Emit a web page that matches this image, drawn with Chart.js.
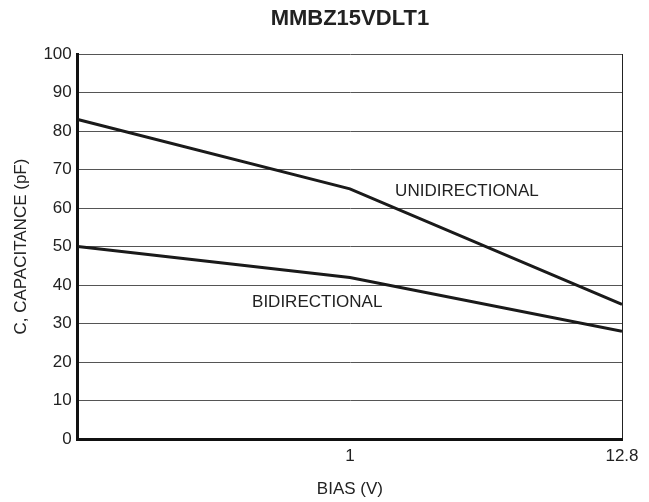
<!DOCTYPE html>
<html>
<head>
<meta charset="utf-8">
<script src="https://cdn.jsdelivr.net/npm/chart.js@4"></script>
<style>
  body { margin: 0; background: #fff; }
  #wrap { width: 649px; height: 502px; }
</style>
</head>
<body>
<div id="wrap"><canvas id="grafico"></canvas></div>
<script>
// bias points are drawn equally spaced, like the datasheet plot
var biasPos = [0, 1, 2]
var biasLabels = ["", "1", "12.8"]
var unidirectional = [83, 65, 35]
var bidirectional = [50, 42, 28]
var yTicks = [0, 10, 20, 30, 40, 50, 60, 70, 80, 90, 100]

var fonte = "'Liberation Sans', Arial, sans-serif"

// title + the two curve names
var textos = {
  id: "textos",
  afterDraw: (chart) => {
    const ctx = chart.ctx
    const area = chart.chartArea
    const x = chart.scales.x
    const y = chart.scales.y
    ctx.save()
    ctx.fillStyle = "#222"
    ctx.textAlign = "center"
    ctx.textBaseline = "middle"
    ctx.font = "bold 22px " + fonte
    ctx.fillText("MMBZ15VDLT1", (area.left + area.right) / 2, 19)
    ctx.font = "17px " + fonte
    ctx.fillText("UNIDIRECTIONAL", x.getPixelForValue(1.43), y.getPixelForValue(64.3))
    ctx.fillText("BIDIRECTIONAL", x.getPixelForValue(0.88), y.getPixelForValue(35.5))
    ctx.restore()
  }
}

var ctx = document.getElementById("grafico")
var grafico = new Chart(ctx, {
  type: "line",
  data: {
    datasets: [{
      label: "UNIDIRECTIONAL",
      data: biasPos.map((b, i) => ({ x: b, y: unidirectional[i] })),
      borderColor: "#1a1a1a",
      borderWidth: 3,
      pointRadius: 0,
      tension: 0
    }, {
      label: "BIDIRECTIONAL",
      data: biasPos.map((b, i) => ({ x: b, y: bidirectional[i] })),
      borderColor: "#1a1a1a",
      borderWidth: 3,
      pointRadius: 0,
      tension: 0
    }]
  },
  options: {
    responsive: true,
    maintainAspectRatio: false,
    animation: false,
    layout: { padding: { top: 54, right: 27, left: 7, bottom: 0 } },
    plugins: {
      legend: { display: false },
      tooltip: { enabled: false }
    },
    scales: {
      x: {
        type: "linear",
        min: 0,
        max: 2,
        afterBuildTicks: (axis) => { axis.ticks = biasPos.map(v => ({ value: v })) },
        ticks: {
          color: "#222",
          font: { family: fonte, size: 17 },
          padding: 7,
          maxRotation: 0,
          callback: (v, i) => biasLabels[i]
        },
        grid: {
          drawTicks: false,
          color: (c) => c.tick && c.tick.value === 2 ? "#222" : "transparent",
          lineWidth: 1
        },
        border: { color: "#111", width: 3 },
        title: {
          display: true,
          text: "BIAS (V)",
          color: "#222",
          font: { family: fonte, size: 17 },
          padding: { top: 6, bottom: 2 }
        }
      },
      y: {
        min: 0,
        max: 100,
        afterBuildTicks: (axis) => { axis.ticks = yTicks.map(v => ({ value: v })) },
        ticks: {
          color: "#222",
          font: { family: fonte, size: 17 },
          padding: 6
        },
        grid: {
          drawTicks: false,
          color: "#555",
          lineWidth: 1
        },
        border: { color: "#111", width: 3 },
        title: {
          display: true,
          text: "C, CAPACITANCE (pF)",
          color: "#222",
          font: { family: fonte, size: 17 },
          padding: { bottom: 6 }
        }
      }
    }
  },
  plugins: [textos]
})
</script>
</body>
</html>
